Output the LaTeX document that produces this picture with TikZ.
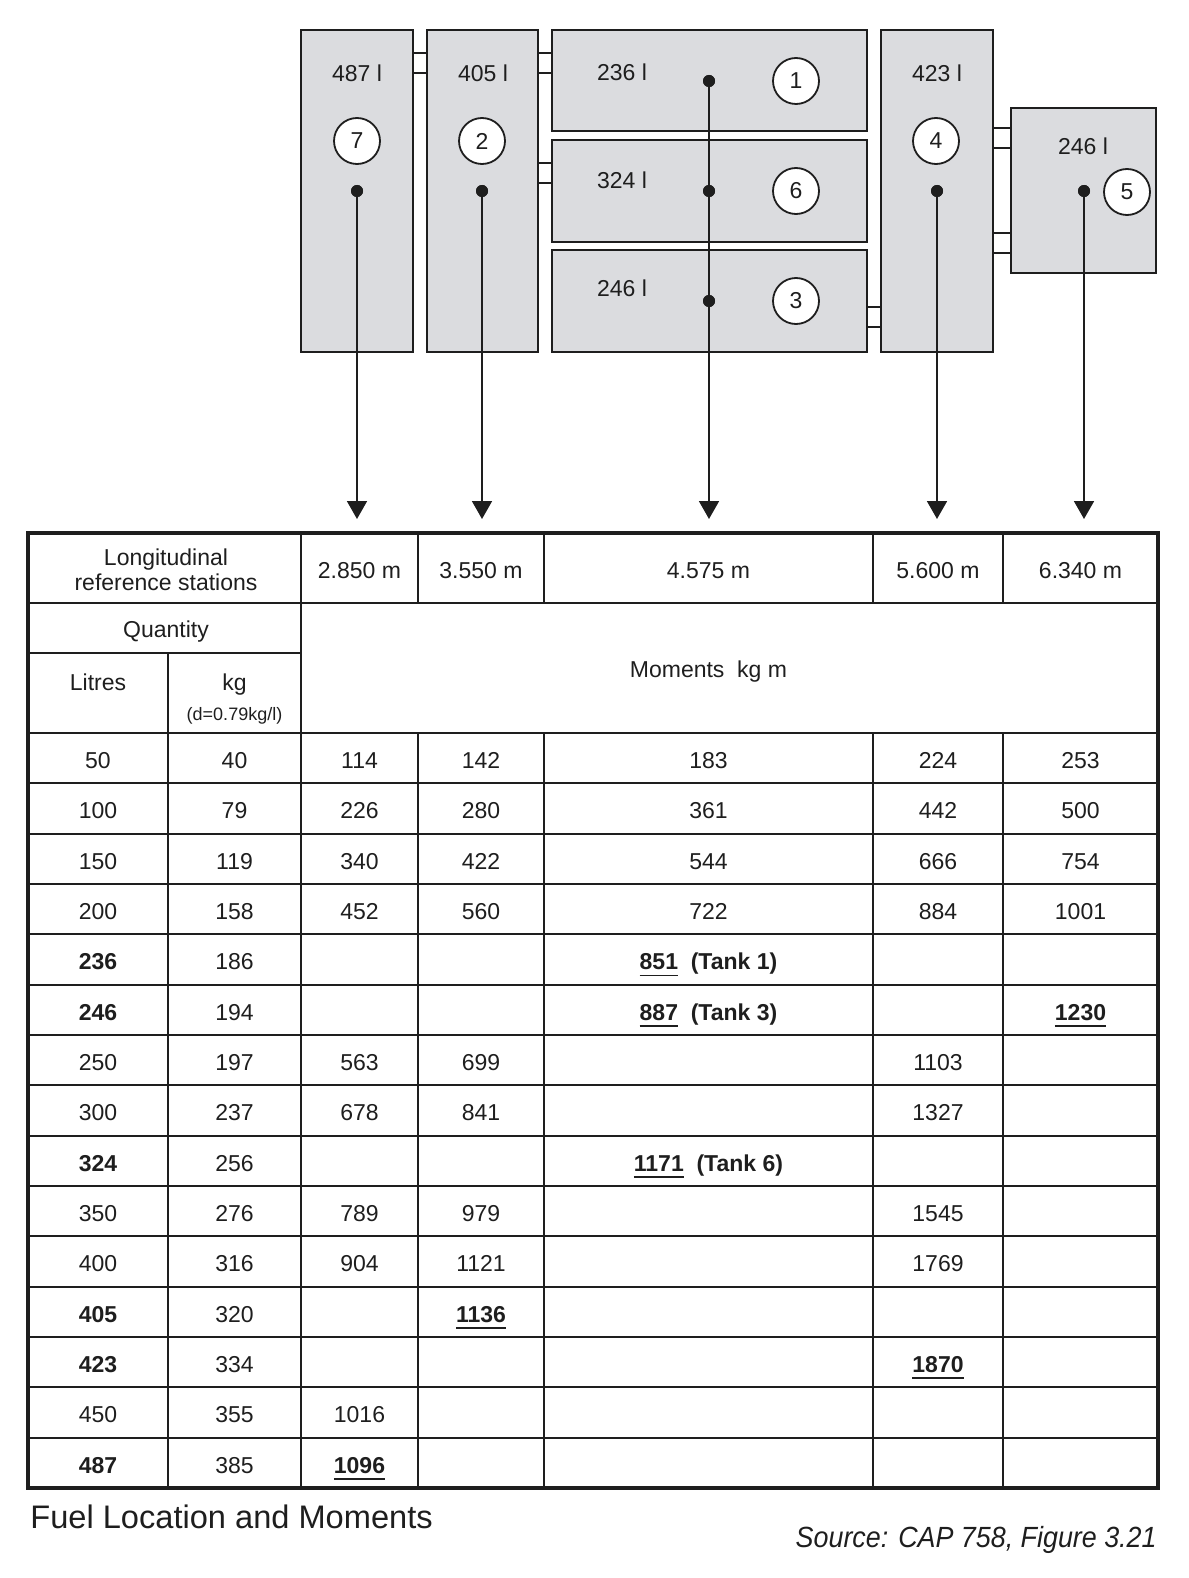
\documentclass[tikz,border=0pt]{standalone}
\usepackage{fontspec}
\usepackage{graphicx}
\setmainfont{Liberation Sans}
\usetikzlibrary{arrows.meta}
\definecolor{tankfill}{HTML}{DBDCDF}
\definecolor{ink}{HTML}{1E1E1E}
\newcommand\ulnum[1]{\setbox0\hbox{#1}\rlap{\rule[-3.3pt]{\wd0}{0.75pt}}\box0}
\begin{document}
\begin{tikzpicture}[x=0.5pt,y=-0.5pt,
  font=\fontsize{11.5}{13}\selectfont, text=ink,
  tank/.style={draw=ink, line width=1.2pt, fill=tankfill},
  num/.style={circle, draw=ink, line width=0.9pt, fill=white, minimum size=23pt, inner sep=0pt},
  dot/.style={circle, fill=ink, minimum size=6pt, inner sep=0pt},
  link/.style={draw=ink, line width=1pt},
  drop/.style={draw=ink, line width=0.9pt, -{Triangle[width=10pt,length=9pt]}},
  cell/.style={inner sep=0pt, anchor=center, text height=8.2pt, text depth=0pt},
  grid/.style={draw=ink, line width=0.6pt},
  heavy/.style={draw=ink, line width=1.3pt},
]
\useasboundingbox (0,0) rectangle (1188,1578);

% ---------- tanks ----------
\draw[tank] (301,30) rectangle (413,352);
\draw[tank] (427,30) rectangle (538,352);
\draw[tank] (552,30) rectangle (867,131);
\draw[tank] (552,140) rectangle (867,242);
\draw[tank] (552,250) rectangle (867,352);
\draw[tank] (881,30) rectangle (993,352);
\draw[tank] (1011,108) rectangle (1156,273);

% tank links
\foreach \ya in {53,73} {\draw[link] (413,\ya) -- (427,\ya); \draw[link] (538,\ya) -- (552,\ya);}
\foreach \ya in {163,183} {\draw[link] (538,\ya) -- (552,\ya);}
\foreach \ya in {307,327} {\draw[link] (867,\ya) -- (881,\ya);}
\foreach \ya in {128,148,233,253} {\draw[link] (993,\ya) -- (1011,\ya);}

% volume labels
\node[cell] (v7) at (357,73) {487 l};
\node[cell] (v2) at (483,73) {405 l};
\node[cell] (v1) at (622,72) {236 l};
\node[cell] (v6) at (622,180) {324 l};
\node[cell] (v3) at (622,288) {246 l};
\node[cell] (v4) at (937,73) {423 l};
\node[cell] (v5) at (1083,146) {246 l};

% tank numbers
\node[num] (n7) at (357,141) {7};
\node[num] (n2) at (482,141) {2};
\node[num] (n1) at (796,81) {1};
\node[num] (n6) at (796,191) {6};
\node[num] (n3) at (796,301) {3};
\node[num] (n4) at (936,141) {4};
\node[num] (n5) at (1127,192) {5};

% centre-of-gravity dots
\node[dot] (d7) at (357,191) {};
\node[dot] (d2) at (482,191) {};
\node[dot] (d1) at (709,81) {};
\node[dot] (d6) at (709,191) {};
\node[dot] (d3) at (709,301) {};
\node[dot] (d4) at (937,191) {};
\node[dot] (d5) at (1084,191) {};

\coordinate (e7) at (357,519);
\coordinate (e2) at (482,519);
\coordinate (e1) at (709,519);
\coordinate (e4) at (937,519);
\coordinate (e5) at (1084,519);
\draw[drop] (d7.center) -- (e7);
\draw[drop] (d2.center) -- (e2);
\draw[drop] (d1.center) -- (e1);
\draw[drop] (d4.center) -- (e4);
\draw[drop] (d5.center) -- (e5);
\node[dot] at (d1) {};
\node[dot] at (d6) {};
\node[dot] at (d3) {};
\node[dot] at (d7) {};
\node[dot] at (d2) {};
\node[dot] at (d4) {};
\node[dot] at (d5) {};

% ---------- table ----------
\foreach \k in {1,...,14} {
  \pgfmathsetmacro\yl{round(733+50.33*\k)}
  \draw[grid] (28,\yl) -- (1158,\yl);
}
\foreach \xl in {418,544,873,1003} {
  \draw[grid] (\xl,533) -- (\xl,603);
  \draw[grid] (\xl,733) -- (\xl,1488);
}
\draw[grid] (168,653) -- (168,1488);
\draw[draw=ink, line width=0.8pt] (28,653) -- (301,653);
\draw[heavy] (28,603) -- (1158,603);
\draw[heavy] (28,733) -- (1158,733);
\draw[heavy] (301,533) -- (301,1488);
\draw[draw=ink, line width=1.6pt] (28,533) rectangle (1158,1488);

% header
\node[inner sep=0pt, align=center, font=\fontsize{11.5}{12.6}\selectfont] (hlrs) at (166,570) {Longitudinal\\reference stations};
\node[cell] (h1) at (359.5,570) {2.850 m};
\node[cell] (h2) at (481,570) {3.550 m};
\node[cell] (h3) at (708.5,570) {4.575 m};
\node[cell] (h4) at (938,570) {5.600 m};
\node[cell] (h5) at (1080.5,570) {6.340 m};
\node[cell] (hq) at (166,629) {Quantity};
\node[cell] (hl) at (98,682) {Litres};
\node[cell] (hk) at (234.5,682) {kg};
\node[cell, font=\fontsize{9}{10}\selectfont, text height=6.5pt] (hd) at (234.5,714) {(d=0.79kg/l)};
\node[cell] (hm) at (708.5,669) {Moments\ \ kg m};

% data rows
\foreach \L/\K/\A/\B/\C/\D/\E [count=\i] in {
  50/40/114/142/183/224/253,
  100/79/226/280/361/442/500,
  150/119/340/422/544/666/754,
  200/158/452/560/722/884/1001,
  {\bfseries 236}/186/{}/{}/{\bfseries\ulnum{851}\ \ (Tank 1)}/{}/{},
  {\bfseries 246}/194/{}/{}/{\bfseries\ulnum{887}\ \ (Tank 3)}/{}/{\bfseries\ulnum{1230}},
  250/197/563/699/{}/1103/{},
  300/237/678/841/{}/1327/{},
  {\bfseries 324}/256/{}/{}/{\bfseries\ulnum{1171}\ \ (Tank 6)}/{}/{},
  350/276/789/979/{}/1545/{},
  400/316/904/1121/{}/1769/{},
  {\bfseries 405}/320/{}/{\bfseries\ulnum{1136}}/{}/{}/{},
  {\bfseries 423}/334/{}/{}/{}/{\bfseries\ulnum{1870}}/{},
  450/355/1016/{}/{}/{}/{},
  {\bfseries 487}/385/{\bfseries\ulnum{1096}}/{}/{}/{}/{}
} {
  \pgfmathsetmacro\yr{733+50.33*(\i-0.5)+2}
  \node[cell] (L\i) at (98,\yr) {\L};
  \node[cell] (K\i) at (234.5,\yr) {\K};
  \node[cell] (A\i) at (359.5,\yr) {\A};
  \node[cell] (B\i) at (481,\yr) {\B};
  \node[cell] (C\i) at (708.5,\yr) {\C};
  \node[cell] (D\i) at (938,\yr) {\D};
  \node[cell] (E\i) at (1080.5,\yr) {\E};
}

% captions
\node[inner sep=0pt, anchor=base west, font=\fontsize{16.3}{18}\selectfont] (cap) at (30,1528) {Fuel Location and Moments};
\node[inner sep=0pt, anchor=base east, font=\fontsize{14.6}{18}\selectfont\itshape] (src) at (1157,1547) {\scalebox{0.92}[1]{Source: CAP 758, Figure 3.21}};
\end{tikzpicture}
\end{document}
